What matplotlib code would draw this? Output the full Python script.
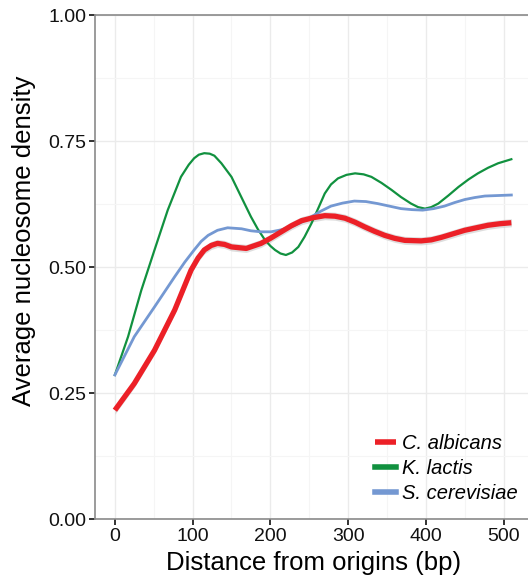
import matplotlib.pyplot as plt
from matplotlib.ticker import MultipleLocator
import numpy as np

# values
ca_x = [0, 25, 51, 77, 98, 107, 115, 124, 132, 141, 150, 169, 188, 200, 214,
        227, 240, 255, 270, 283, 296, 309, 321, 334, 347, 360, 373, 394, 407,
        420, 435, 450, 465, 480, 495, 510]
ca_y = [0.216, 0.269, 0.335, 0.415, 0.494, 0.518, 0.534, 0.543, 0.547, 0.545,
        0.540, 0.537, 0.547, 0.557, 0.570, 0.582, 0.592, 0.598, 0.602, 0.601,
        0.597, 0.589, 0.580, 0.571, 0.563, 0.557, 0.553, 0.552, 0.554, 0.559,
        0.566, 0.573, 0.578, 0.583, 0.586, 0.588]

kl_x = [0, 17, 34, 51, 68, 85, 95, 102, 108, 115, 122, 128, 137, 150, 162, 175,
        184, 193, 200, 206, 213, 220, 228, 236, 244, 253, 262, 270, 278, 287,
        298, 309, 320, 330, 343, 356, 368, 381, 390, 399, 407, 416, 429, 442,
        455, 467, 480, 493, 510]
kl_y = [0.286, 0.362, 0.454, 0.534, 0.613, 0.679, 0.703, 0.716, 0.723, 0.726,
        0.725, 0.721, 0.706, 0.679, 0.641, 0.600, 0.575, 0.554, 0.542, 0.534,
        0.527, 0.524, 0.529, 0.540, 0.560, 0.587, 0.618, 0.646, 0.664, 0.676,
        0.683, 0.686, 0.684, 0.679, 0.667, 0.653, 0.639, 0.626, 0.619, 0.616,
        0.619, 0.626, 0.642, 0.659, 0.674, 0.686, 0.697, 0.706, 0.714]

sc_x = [0, 25, 51, 77, 90, 102, 111, 120, 132, 145, 163, 175, 188, 201, 214,
        227, 240, 253, 265, 278, 293, 308, 323, 338, 353, 368, 382, 396, 410,
        424, 437, 450, 463, 476, 493, 510]
sc_y = [0.286, 0.362, 0.421, 0.481, 0.510, 0.534, 0.551, 0.563, 0.573, 0.578,
        0.576, 0.572, 0.570, 0.570, 0.574, 0.580, 0.589, 0.600, 0.611, 0.621,
        0.627, 0.631, 0.630, 0.626, 0.621, 0.616, 0.614, 0.613, 0.616, 0.621,
        0.628, 0.634, 0.638, 0.641, 0.642, 0.643]

ca_se = 0.008

plt.rcParams['font.family'] = ['Liberation Sans', 'DejaVu Sans']

fig = plt.figure(figsize=(5.28, 5.8), dpi=100)
ax = fig.add_axes([0.18, 0.105, 0.826, 0.869])

ax.set_xlim(-25.5, 535.5)
ax.set_ylim(0, 1)

ax.xaxis.set_major_locator(MultipleLocator(100))
ax.xaxis.set_minor_locator(MultipleLocator(50))
ax.yaxis.set_major_locator(MultipleLocator(0.25))
ax.yaxis.set_minor_locator(MultipleLocator(0.125))
ax.grid(True, which='major', color='#EBEBEB', linewidth=1.0)
ax.grid(True, which='minor', color='#F5F5F5', linewidth=0.8)
ax.set_axisbelow(True)

ca = np.array(ca_y)
ax.fill_between(ca_x, ca - ca_se, ca + ca_se, color='#C8C8C8', alpha=0.6, linewidth=0)
ax.plot(kl_x, kl_y, color='#11913F', linewidth=1.6, label='K. lactis',
        solid_joinstyle='round')
ax.plot(sc_x, sc_y, color='#7498D2', linewidth=2.0, label='S. cerevisiae',
        solid_joinstyle='round')
ax.plot(ca_x, ca_y, color='#EC2027', linewidth=3.8, label='C. albicans',
        solid_joinstyle='round', solid_capstyle='butt')

ax.set_yticks([0, 0.25, 0.5, 0.75, 1.0])
ax.set_yticklabels(['0.00', '0.25', '0.50', '0.75', '1.00'])
ax.tick_params(which='major', length=4.5, width=1.3, color='#222222',
               labelsize=14, labelcolor='#111111', pad=2)
ax.tick_params(which='minor', length=0)

for side in ['left', 'bottom', 'top']:
    ax.spines[side].set_color('#8A8A8A')
    ax.spines[side].set_linewidth(1.2)
ax.spines['right'].set_visible(False)

ax.set_xlabel('Distance from origins (bp)', fontsize=18.5, labelpad=4)
ax.set_ylabel('Average nucleosome density', fontsize=18.5, labelpad=8)
ax.yaxis.set_label_coords(-0.135, 0.553)

handles, labels = ax.get_legend_handles_labels()
order = [2, 0, 1]
leg = ax.legend([handles[i] for i in order], [labels[i] for i in order],
                loc='lower right', bbox_to_anchor=(1.01, -0.005), frameon=False,
                handlelength=1.0, handletextpad=0.3, labelspacing=0.3,
                prop={'style': 'italic', 'size': 14.5})
for h in leg.get_lines():
    h.set_linewidth(4)

fig.savefig('out.png', dpi=100)
